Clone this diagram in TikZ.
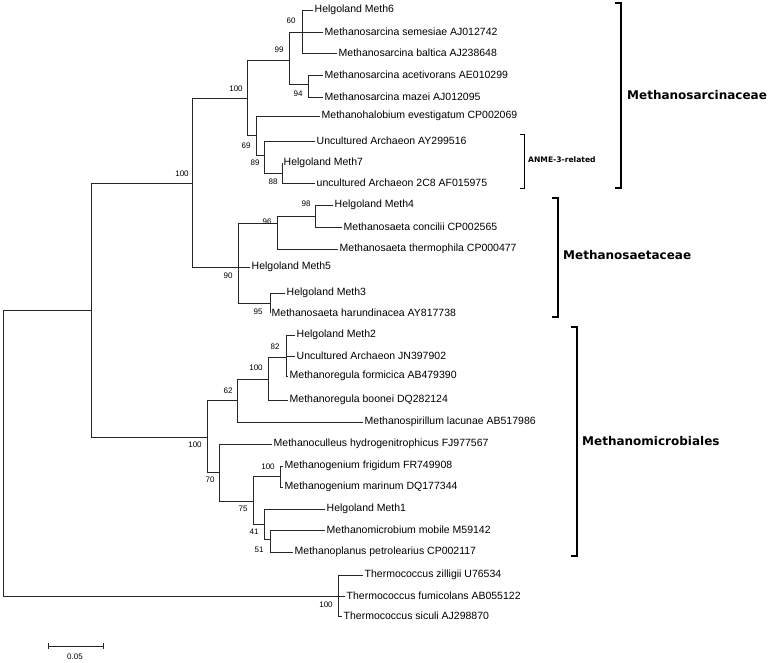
\documentclass[tikz,border=0pt]{standalone}
\usepackage{fontspec}
\setmainfont{Liberation Sans}
\newfontfamily\cladefont{DejaVu Sans}
\usetikzlibrary{positioning}
\tikzset{
  branch/.style={draw=black!85, line width=0.8pt},
  leaf/.style={anchor=west, inner sep=1.5pt, font=\fontsize{10.5}{12}\selectfont},
  boot/.style={inner sep=0pt, font=\fontsize{8}{9}\selectfont},
  clade/.style={anchor=west, inner sep=0pt, font=\cladefont\bfseries\fontsize{12}{14}\selectfont},
  subclade/.style={anchor=west, inner sep=0pt, font=\cladefont\bfseries\fontsize{7.6}{9}\selectfont},
  bracket/.style={draw, line width=1.2pt}
}
\begin{document}
\begin{tikzpicture}[x=1pt, y=-1pt]
        \useasboundingbox (0,0) rectangle (777,662);
        % leaves
        \node[leaf] (m6)  at (313,10)  {Helgoland Meth6};
        \node[leaf] (sem) at (323,32)  {Methanosarcina semesiae AJ012742};
        \node[leaf] (bal) at (337,53)  {Methanosarcina baltica AJ238648};
        \node[leaf] (ace) at (323,75)  {Methanosarcina acetivorans AE010299};
        \node[leaf] (maz) at (323,97)  {Methanosarcina mazei AJ012095};
        \node[leaf] (hal) at (320,116) {Methanohalobium evestigatum CP002069};
        \node[leaf] (ua)  at (315,141) {Uncultured Archaeon AY299516};
        \node[leaf] (m7)  at (282,163) {Helgoland Meth7};
        \node[leaf] (ub)  at (315,183) {uncultured Archaeon 2C8 AF015975};
        \node[leaf] (m4)  at (333,205) {Helgoland Meth4};
        \node[leaf] (con) at (342,227) {Methanosaeta concilii CP002565};
        \node[leaf] (the) at (338,249) {Methanosaeta thermophila CP000477};
        \node[leaf] (m5)  at (250,267) {Helgoland Meth5};
        \node[leaf] (m3)  at (285,293) {Helgoland Meth3};
        \node[leaf] (har) at (270,313) {Methanosaeta harundinacea AY817738};
        \node[leaf] (m2)  at (295,335) {Helgoland Meth2};
        \node[leaf] (uc)  at (295,356) {Uncultured Archaeon JN397902};
        \node[leaf] (frm) at (288,376) {Methanoregula formicica AB479390};
        \node[leaf] (boo) at (288,400) {Methanoregula boonei DQ282124};
        \node[leaf] (lac) at (363,422) {Methanospirillum lacunae AB517986};
        \node[leaf] (cul) at (272,444) {Methanoculleus hydrogenitrophicus FJ977567};
        \node[leaf] (fri) at (283,466) {Methanogenium frigidum FR749908};
        \node[leaf] (mar) at (283,487) {Methanogenium marinum DQ177344};
        \node[leaf] (m1)  at (325,509) {Helgoland Meth1};
        \node[leaf] (mob) at (325,530) {Methanomicrobium mobile M59142};
        \node[leaf] (pet) at (293,552) {Methanoplanus petrolearius CP002117};
        \node[leaf] (zil) at (363,575) {Thermococcus zilligii U76534};
        \node[leaf] (fum) at (345,596) {Thermococcus fumicolans AB055122};
        \node[leaf] (sic) at (342,616) {Thermococcus siculi AJ298870};
        % internal nodes
        \coordinate (root) at (3,310);
        \coordinate (nA) at (91,310);
        \coordinate (nB) at (192,183);
        \coordinate (nC) at (247,98);
        \coordinate (nD) at (289,60);
        \coordinate (nE) at (302,32);
        \coordinate (nF) at (308,84);
        \coordinate (nG) at (256,135);
        \coordinate (nH) at (264,155);
        \coordinate (nI) at (282,173);
        \coordinate (nJ) at (238,267);
        \coordinate (nK) at (277,223);
        \coordinate (nM) at (315,216);
        \coordinate (nL) at (270,303);
        \coordinate (nN) at (207,437);
        \coordinate (nO) at (237,400);
        \coordinate (nP) at (268,379);
        \coordinate (nQ) at (286,357);
        \coordinate (nR) at (219,472);
        \coordinate (nS) at (253,501);
        \coordinate (nT) at (280,476);
        \coordinate (nU) at (264,524);
        \coordinate (nV) at (270,539);
        \coordinate (nW) at (338,596);
        % branches
        \foreach \p/\c in {root/nA, root/nW, nA/nB, nA/nN, nB/nC, nB/nJ, nC/nD, nC/nG,
            nD/nE, nD/nF, nE/m6.west, nE/sem.west, nE/bal.west, nF/ace.west, nF/maz.west,
            nG/hal.west, nG/nH, nH/ua.west, nH/nI, nI/m7.west, nI/ub.west,
            nJ/nK, nJ/m5.west, nJ/nL, nK/nM, nK/the.west, nM/m4.west, nM/con.west,
            nL/m3.west, nL/har.west, nN/nO, nN/nR, nO/nP, nO/lac.west, nP/nQ, nP/boo.west,
            nQ/m2.west, nQ/uc.west, nQ/frm.west, nR/cul.west, nR/nS, nS/nT, nS/nU,
            nT/fri.west, nT/mar.west, nU/m1.west, nU/nV, nV/mob.west, nV/pet.west,
            nW/zil.west, nW/fum.west, nW/sic.west}
            \draw[branch] (\p) |- (\c);
        % bootstrap values
        \foreach \x/\y/\v in {182/174/100, 236/89/100, 279/50/99, 291/21/60, 298/94/94,
            246/146/69, 255/163/89, 273/182/88, 306/204/98, 267/222/96, 228/276/90,
            258/312/95, 275/347/82, 256/368/100, 228/391/62, 195/445/100, 210/480/70,
            268/467/100, 243/509/75, 254/532/41, 259/550/51, 326/605/100}
            \node[boot] at (\x,\y) {\v};
        % clade brackets
        \draw[bracket] (615,3) -| (621,188) -- (615,188);
        \node[clade] (sarc) at (627,95) {Methanosarcinaceae};
        \draw[bracket, line width=0.9pt] (520,134) -| (524,188) -- (520,188);
        \node[subclade] (anme) at (528,160) {ANME-3-related};
        \draw[bracket] (552,198) -| (558,317) -- (552,317);
        \node[clade] (saet) at (563,255) {Methanosaetaceae};
        \draw[bracket] (571,327) -| (577,556) -- (571,556);
        \node[clade] (micr) at (582,441) {Methanomicrobiales};
        % scale bar
        \coordinate (sa) at (48,646);
        \coordinate (sb) at (103,646);
        \draw[branch] (sa) -- (sb);
        \draw[branch] ([yshift=-3pt]sa) -- ([yshift=3pt]sa);
        \draw[branch] ([yshift=-3pt]sb) -- ([yshift=3pt]sb);
        \node[boot] (sl) at (75,657) {0.05};
\end{tikzpicture}
\end{document}
